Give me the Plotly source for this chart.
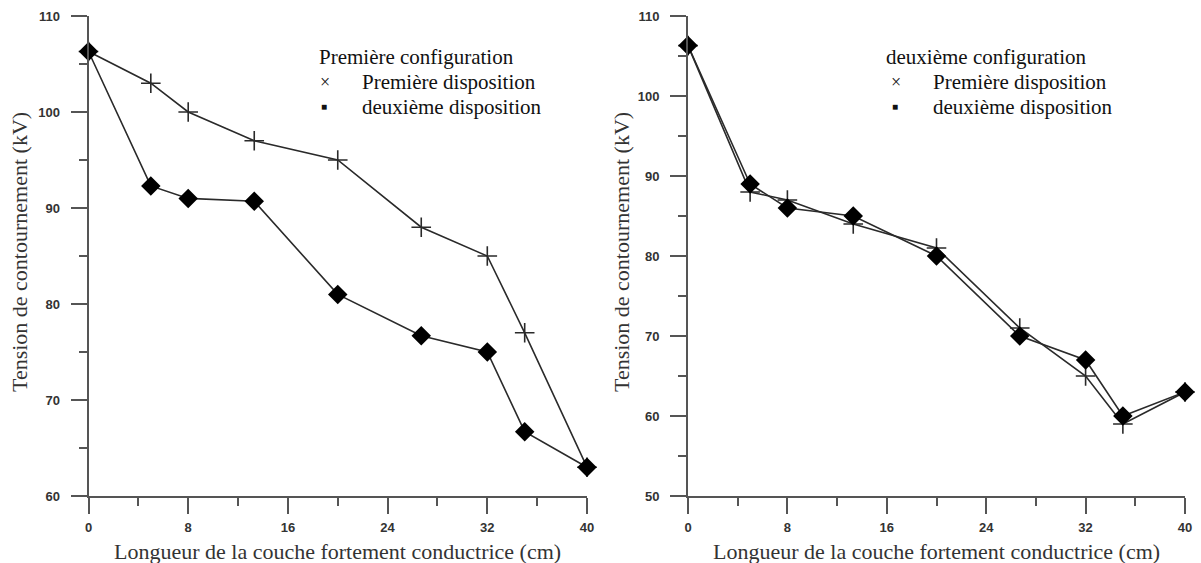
import plotly.graph_objects as go

# ---- data ----
x_pos = [0, 5, 8, 13.3, 20, 26.7, 32, 35, 40]

cfg1_disp1 = [106.3, 103, 100, 97, 95, 88, 85, 77, 63]
cfg1_disp2 = [106.3, 92.3, 91, 90.7, 81, 76.7, 75, 66.7, 63]

cfg2_disp1 = [106.3, 88, 87, 84, 81, 71, 65, 59, 63]
cfg2_disp2 = [106.3, 89, 86, 85, 80, 70, 67, 60, 63]

x_ticks = [0, 8, 16, 24, 32, 40]
y_ticks_left = [60, 70, 80, 90, 100, 110]
y_ticks_right = [50, 60, 70, 80, 90, 100, 110]

legend_titles = ["Première configuration", "deuxième configuration"]
series_names = ["Première disposition", "deuxième disposition"]
x_title = "Longueur de la couche fortement conductrice (cm)"
y_title = "Tension de contournement (kV)"

W, H = 1201, 563
def px(x):
    return x / W
def py(y):
    return 1 - y / H

LINE = "#2a2a2a"
AX = "#555555"
SERIF = "Liberation Serif, Times New Roman, serif"
SANS = "Liberation Sans, Arial, sans-serif"

fig = go.Figure()

def add_pair(d1, d2, xa, ya):
    fig.add_trace(go.Scatter(
        x=x_pos, y=d1, mode="lines+markers", xaxis=xa, yaxis=ya,
        name=series_names[0], showlegend=False, cliponaxis=False,
        line=dict(color=LINE, width=1.6),
        marker=dict(symbol="cross-thin", size=14, color=LINE,
                    line=dict(color=LINE, width=1.6))))
    fig.add_trace(go.Scatter(
        x=x_pos, y=d2, mode="lines+markers", xaxis=xa, yaxis=ya,
        name=series_names[1], showlegend=False, cliponaxis=False,
        line=dict(color=LINE, width=1.6),
        marker=dict(symbol="diamond", size=15, color="#000000")))

add_pair(cfg1_disp1, cfg1_disp2, "x", "y")
add_pair(cfg2_disp1, cfg2_disp2, "x2", "y2")

tickfont = dict(family=SANS, size=13, color="#333333", weight="bold")

def xaxis(domain, anchor):
    return dict(domain=domain, anchor=anchor, range=[0, 40],
                tickmode="array", tickvals=x_ticks, ticks="outside",
                ticklen=16, tickwidth=2, tickcolor=AX,
                showline=True, linecolor=AX, linewidth=2,
                showgrid=False, zeroline=False, tickfont=tickfont,
                ticklabelstandoff=2, automargin=False,
                minor=dict(dtick=4, tick0=0, ticks="outside", ticklen=8,
                           tickwidth=2, tickcolor=AX, showgrid=False))

def yaxis(domain, anchor, rng, tv):
    return dict(domain=domain, anchor=anchor, range=rng,
                tickmode="array", tickvals=tv, ticks="outside",
                ticklen=16, tickwidth=2, tickcolor=AX,
                showline=True, linecolor=AX, linewidth=2,
                showgrid=False, zeroline=False, tickfont=tickfont,
                ticklabelstandoff=8, automargin=False,
                minor=dict(dtick=5, tick0=0, ticks="outside", ticklen=8,
                           tickwidth=2, tickcolor=AX, showgrid=False))

ydom = [py(496), py(16)]
fig.update_layout(
    width=W, height=H,
    margin=dict(l=0, r=0, t=0, b=0),
    paper_bgcolor="white", plot_bgcolor="white",
    xaxis=xaxis([px(88.5), px(587)], "y"),
    yaxis=yaxis(ydom, "x", [60, 110], y_ticks_left),
    xaxis2=xaxis([px(688), px(1185)], "y2"),
    yaxis2=yaxis(ydom, "x2", [50, 110], y_ticks_right),
)

ann = []
for cx, ycx in [(337.5, 20), (936.5, 622)]:
    ann.append(dict(x=px(cx), y=py(551), xref="paper", yref="paper",
                    text=x_title, showarrow=False, xanchor="center", yanchor="middle",
                    font=dict(family=SERIF, size=22, color="#333333")))
    ann.append(dict(x=px(ycx), y=py(252), xref="paper", yref="paper",
                    text=y_title, showarrow=False, xanchor="center", yanchor="middle",
                    textangle=-90,
                    font=dict(family=SERIF, size=22, color="#333333")))

for title, tx, sx, txt in [(legend_titles[0], 317, 318, 360), (legend_titles[1], 884, 889, 931)]:
    ann.append(dict(x=px(tx), y=py(57), xref="paper", yref="paper", text=title,
                    showarrow=False, xanchor="left", yanchor="middle",
                    font=dict(family=SERIF, size=21, color="#111111")))
    ann.append(dict(x=px(sx), y=py(82), xref="paper", yref="paper", text="×",
                    showarrow=False, xanchor="left", yanchor="middle",
                    font=dict(family=SERIF, size=18, color="#111111")))
    ann.append(dict(x=px(sx + 1), y=py(107), xref="paper", yref="paper", text="■",
                    showarrow=False, xanchor="left", yanchor="middle",
                    font=dict(family=SANS, size=10, color="#111111")))
    for i, yy in enumerate([82, 107]):
        ann.append(dict(x=px(txt), y=py(yy), xref="paper", yref="paper",
                        text=series_names[i], showarrow=False, xanchor="left",
                        yanchor="middle",
                        font=dict(family=SERIF, size=21, color="#111111")))

fig.update_layout(annotations=ann)
fig.write_html("out.html")
